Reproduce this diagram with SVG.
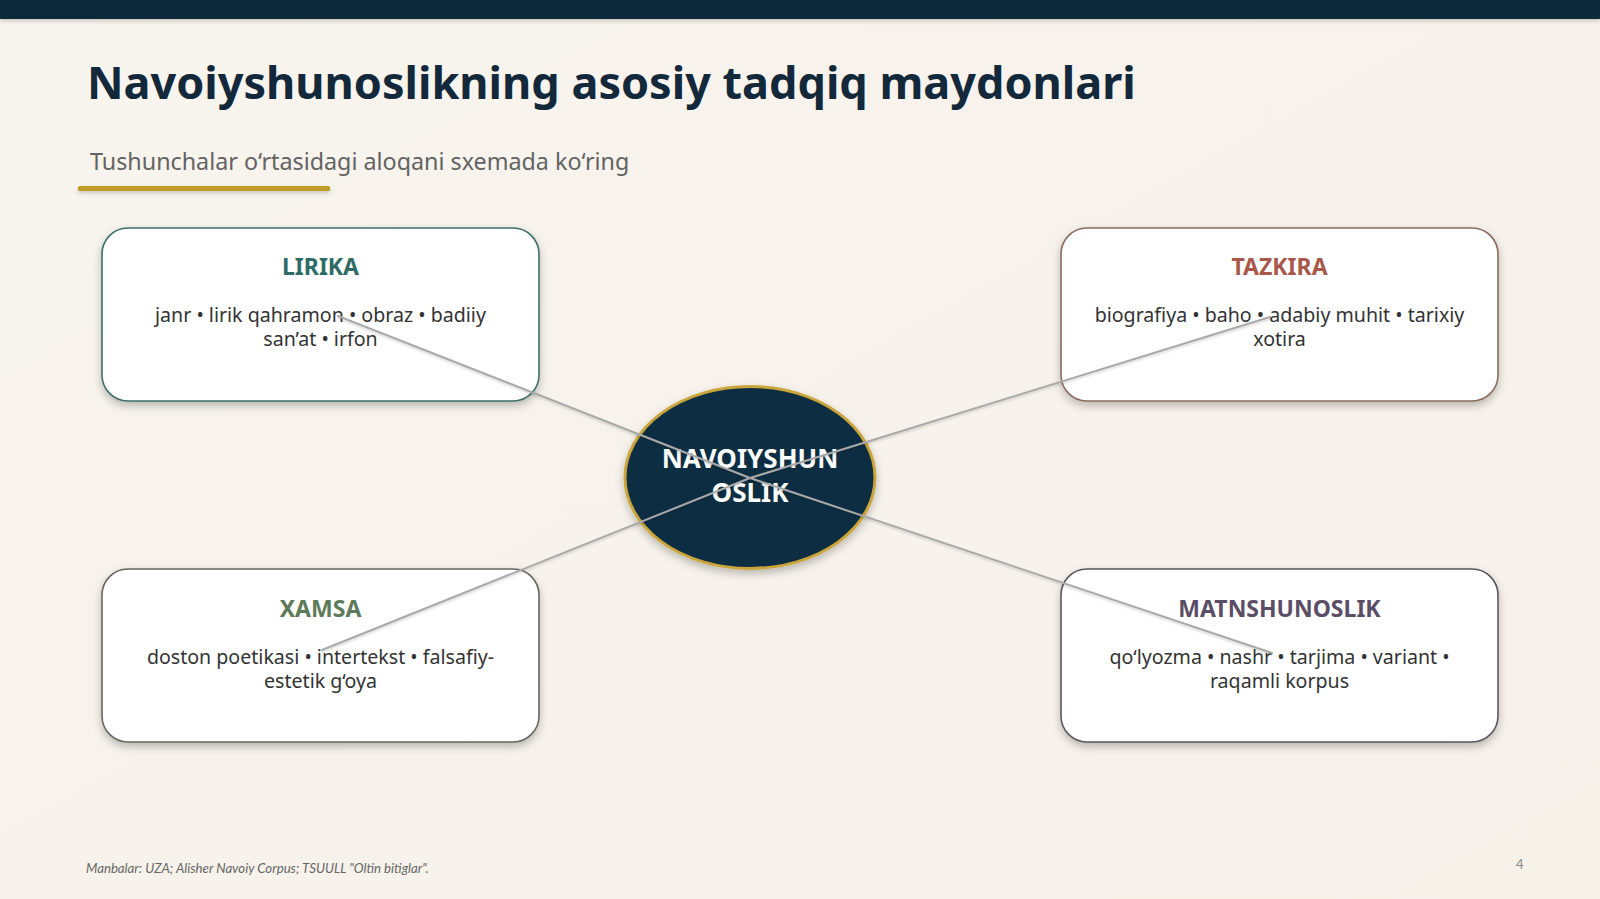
<svg xmlns="http://www.w3.org/2000/svg" width="1600" height="899" viewBox="0 0 1600 899">
  <defs>
    <linearGradient id="bg" x1="0" y1="0" x2="1" y2="1">
      <stop offset="0" stop-color="#f8f4ee"/>
      <stop offset="1" stop-color="#f6f1e9"/>
    </linearGradient>
    <filter id="shadow" x="-10%" y="-10%" width="120%" height="130%">
      <feDropShadow dx="0" dy="4" stdDeviation="4" flood-color="#000" flood-opacity="0.25"/>
    </filter>
    <filter id="soft" x="-5%" y="-50%" width="110%" height="300%">
      <feDropShadow dx="0" dy="2" stdDeviation="2" flood-color="#000" flood-opacity="0.2"/>
    </filter>
    <filter id="lineShadow" x="-5%" y="-20%" width="110%" height="140%">
      <feDropShadow dx="0" dy="1.5" stdDeviation="1.2" flood-color="#000" flood-opacity="0.18"/>
    </filter>
  </defs>
  <style>
    .title { font-family: "Noto Sans", "Open Sans", sans-serif; font-weight: 700; font-size: 45px; fill: #13293b; }
    .subtitle { font-family: "Noto Sans", "Open Sans", sans-serif; font-size: 23.3px; fill: #636363; }
    .box { fill: #ffffff; stroke-width: 1.6; filter: url(#shadow); }
    .head { font-family: "Noto Sans", "Open Sans", sans-serif; font-weight: 700; font-size: 23px; text-anchor: middle; }
    .body { font-family: "Noto Sans", "Open Sans", sans-serif; font-size: 19.6px; fill: #333333; text-anchor: middle; }
    .center-text { font-family: "Noto Sans", "Open Sans", sans-serif; font-weight: 700; font-size: 26px; fill: #ffffff; text-anchor: middle; }
    .link { stroke: #a9a9a9; stroke-width: 2; fill: none; stroke-linecap: round; filter: url(#lineShadow); }
    .footer { font-family: "Lato", "Liberation Sans", sans-serif; font-style: italic; font-size: 13.2px; fill: #666666; }
    .page { font-family: "Lato", "Liberation Sans", sans-serif; font-size: 13px; fill: #888888; }
  </style>

  <rect x="0" y="0" width="1600" height="899" fill="url(#bg)"/>
  <rect x="0" y="0" width="1600" height="19" fill="#0f2a3b" filter="url(#soft)"/>

  <g id="header">
    <text class="title" x="87" y="99">Navoiyshunoslikning asosiy tadqiq maydonlari</text>
    <text class="subtitle" x="90" y="170">Tushunchalar o‘rtasidagi aloqani sxemada ko‘ring</text>
    <rect x="78" y="186" width="252" height="5" rx="1.5" fill="#bf9c25" filter="url(#soft)"/>
  </g>

  <g id="node-lirika">
    <rect class="box" x="102" y="228" width="437" height="173" rx="26" stroke="#3f6f69"/>
    <text class="head" x="320.5" y="275" fill="#2f6b66">LIRIKA</text>
    <text class="body" x="320.5" y="322">janr • lirik qahramon • obraz • badiiy</text>
    <text class="body" x="320.5" y="346">san’at • irfon</text>
  </g>

  <g id="node-tazkira">
    <rect class="box" x="1061" y="228" width="437" height="173" rx="26" stroke="#8a6b60"/>
    <text class="head" x="1279.5" y="275" fill="#a9574a">TAZKIRA</text>
    <text class="body" x="1279.5" y="322">biografiya • baho • adabiy muhit • tarixiy</text>
    <text class="body" x="1279.5" y="346">xotira</text>
  </g>

  <g id="node-xamsa">
    <rect class="box" x="102" y="569" width="437" height="173" rx="26" stroke="#66675e"/>
    <text class="head" x="320.5" y="617" fill="#5d7a5a">XAMSA</text>
    <text class="body" x="320.5" y="664">doston poetikasi • intertekst • falsafiy-</text>
    <text class="body" x="320.5" y="688">estetik g‘oya</text>
  </g>

  <g id="node-matnshunoslik">
    <rect class="box" x="1061" y="569" width="437" height="173" rx="26" stroke="#5a5660"/>
    <text class="head" x="1279.5" y="617" fill="#5a4d66">MATNSHUNOSLIK</text>
    <text class="body" x="1279.5" y="664">qo‘lyozma • nashr • tarjima • variant •</text>
    <text class="body" x="1279.5" y="688">raqamli korpus</text>
  </g>

  <g id="node-center">
    <ellipse cx="750" cy="477.5" rx="125" ry="91" fill="#0f2d42" stroke="#c9a53a" stroke-width="3" filter="url(#shadow)"/>
    <text class="center-text" x="750" y="468">NAVOIYSHUN</text>
    <text class="center-text" x="750" y="502">OSLIK</text>
  </g>

  <g id="connectors">
    <line class="link" x1="750" y1="478" x2="338" y2="316"/>
    <line class="link" x1="750" y1="478" x2="1270" y2="317"/>
    <line class="link" x1="750" y1="478" x2="322" y2="650"/>
    <line class="link" x1="750" y1="478" x2="1272" y2="653"/>
  </g>

  <g id="footer">
    <text class="footer" x="86" y="873">Manbalar: UZA; Alisher Navoiy Corpus; TSUULL "Oltin bitiglar".</text>
    <text class="page" x="1516" y="869">4</text>
  </g>
</svg>
